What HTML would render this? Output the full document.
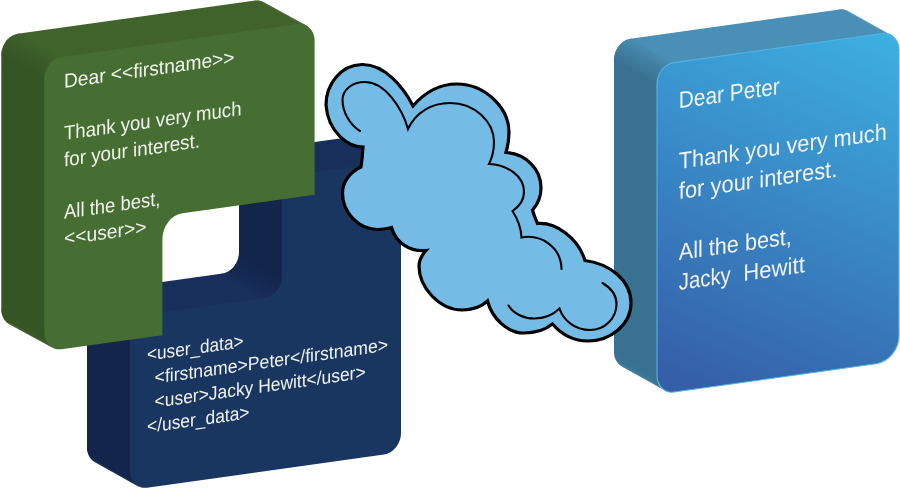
<!DOCTYPE html>
<html><head><meta charset="utf-8"><title>Mail merge</title>
<style>
html,body{margin:0;padding:0;background:#fff;overflow:hidden;}
svg{display:block;will-change:transform;}
text{font-family:"Liberation Sans",sans-serif;}
</style></head><body>
<svg width="900" height="488" viewBox="0 0 900 488">
<defs>
<path id="gB" d="M282.00,235.00 A17,19 0 0 1 299.00,216.00 L384.00,216.00 A17,19 0 0 1 401.00,235.00 L401.00,489.30 A17,19 0 0 1 384.00,508.30 L147.00,508.30 A17,19 0 0 1 130.00,489.30 L130.00,353.80 A17,19 0 0 1 147.00,334.80 L265.00,334.80 A17,19 0 0 0 282.00,315.80 Z"/>
<path id="gG" d="M44.30,84.70 A17,19 0 0 1 61.30,65.70 L297.60,65.70 A17,19 0 0 1 314.60,84.70 L314.60,238.80 L182.40,238.80 A20,23 0 0 0 162.40,261.80 L162.40,358.10 L61.30,357.76 A17,19 0 0 1 44.30,338.70 Z"/>
<path id="gP" d="M657.00,176.00 A17,19 0 0 1 674.00,157.00 L882.00,157.00 A17,19 0 0 1 899.00,176.00 L899.00,461.40 A23,25 0 0 1 876.00,486.40 L674.00,486.40 A17,19 0 0 1 657.00,467.40 Z"/>
<linearGradient id="pg" gradientUnits="userSpaceOnUse" x1="880" y1="150" x2="690" y2="480">
<stop offset="0" stop-color="#3db0e2"/><stop offset="1" stop-color="#355fa8"/>
</linearGradient>
</defs>
<rect width="900" height="488" fill="#fff"/>
<g transform="matrix(1,-0.14,0,1,0,0)">
<g><polygon points="283.68,236.90 283.86,233.37 239.14,202.15 238.96,205.68" fill="#13254b"/>
<polygon points="283.72,234.77 284.25,231.28 239.53,200.06 239.00,203.54" fill="#13264c"/>
<polygon points="283.97,232.65 284.85,229.25 240.13,198.03 239.25,201.43" fill="#14274d"/>
<polygon points="284.43,230.58 285.65,227.30 240.93,196.08 239.71,199.36" fill="#14274e"/>
<polygon points="285.09,228.58 286.64,225.46 241.92,194.24 240.37,197.36" fill="#14284f"/>
<polygon points="285.95,226.68 287.80,223.76 243.08,192.54 241.23,195.46" fill="#142950"/>
<polygon points="286.99,224.90 289.14,222.22 244.42,191.00 242.27,193.68" fill="#152951"/>
<polygon points="288.20,223.26 290.62,220.85 245.90,189.63 243.48,192.04" fill="#152a53"/>
<polygon points="289.57,221.78 292.22,219.68 247.50,188.46 244.85,190.56" fill="#152b54"/>
<polygon points="291.08,220.48 293.94,218.71 249.22,187.49 246.36,189.26" fill="#162b55"/>
<polygon points="292.71,219.38 295.74,217.97 251.02,186.75 247.99,188.16" fill="#162c56"/>
<polygon points="294.44,218.48 297.60,217.46 252.88,186.24 249.72,187.26" fill="#162d57"/>
<polygon points="296.25,217.81 299.50,217.19 254.78,185.97 251.53,186.59" fill="#172e58"/>
<polygon points="298.12,217.36 301.42,217.16 256.70,185.94 253.40,186.14" fill="#172f59"/>
<polygon points="300.02,217.20 386.42,217.20 341.70,185.98 255.30,185.98" fill="#172f5a"/>
<polygon points="385.02,217.16 388.32,217.36 343.60,186.14 340.30,185.94" fill="#172f5a"/>
<polygon points="386.94,217.19 390.19,217.81 345.47,186.59 342.22,185.97" fill="#172f5a"/>
<polygon points="388.84,217.46 392.00,218.48 347.28,187.26 344.12,186.24" fill="#17305b"/>
<polygon points="390.70,217.97 393.73,219.38 349.01,188.16 345.98,186.75" fill="#18305b"/>
<polygon points="392.50,218.71 395.36,220.48 350.64,189.26 347.78,187.49" fill="#18305b"/>
<polygon points="140.22,507.02 137.57,504.92 92.85,473.70 95.50,475.80" fill="#14274d"/>
<polygon points="138.62,505.85 136.20,503.44 91.48,472.22 93.90,474.63" fill="#14274d"/>
<polygon points="137.14,504.48 134.99,501.80 90.27,470.58 92.42,473.26" fill="#14274d"/>
<polygon points="135.80,502.94 133.95,500.02 89.23,468.80 91.08,471.72" fill="#14264c"/>
<polygon points="134.64,501.24 133.09,498.12 88.37,466.90 89.92,470.02" fill="#14264c"/>
<polygon points="133.65,499.40 132.43,496.12 87.71,464.90 88.93,468.18" fill="#13264c"/>
<polygon points="132.85,497.45 131.97,494.05 87.25,462.83 88.13,466.23" fill="#13264c"/>
<polygon points="132.25,495.42 131.72,491.94 87.00,460.72 87.53,464.20" fill="#13254b"/>
<polygon points="131.86,493.33 131.68,489.80 86.96,458.58 87.14,462.11" fill="#13254b"/>
<polygon points="131.72,491.20 131.72,354.30 87.00,323.08 87.00,459.98" fill="#13254b"/>
<polygon points="131.68,355.70 131.86,352.17 87.14,320.95 86.96,324.48" fill="#13254b"/>
<polygon points="131.72,353.57 132.25,350.08 87.53,318.86 87.00,322.34" fill="#13264c"/>
<polygon points="131.97,351.45 132.85,348.05 88.13,316.83 87.25,320.23" fill="#14274d"/>
<polygon points="132.43,349.38 133.65,346.10 88.93,314.88 87.71,318.16" fill="#14274e"/>
<polygon points="133.09,347.38 134.64,344.26 89.92,313.04 88.37,316.16" fill="#14284f"/>
<polygon points="133.95,345.48 135.80,342.56 91.08,311.34 89.23,314.26" fill="#142950"/>
<polygon points="134.99,343.70 137.14,341.02 92.42,309.80 90.27,312.48" fill="#152951"/>
<polygon points="136.20,342.06 138.62,339.65 93.90,308.43 91.48,310.84" fill="#152a53"/>
<polygon points="137.57,340.58 140.22,338.48 95.50,307.26 92.85,309.36" fill="#152b54"/>
<polygon points="139.08,339.28 141.94,337.51 97.22,306.29 94.36,308.06" fill="#162b55"/>
<polygon points="140.71,338.18 143.74,336.77 99.02,305.55 95.99,306.96" fill="#162c56"/>
<polygon points="142.44,337.28 145.60,336.26 100.88,305.04 97.72,306.06" fill="#162d57"/>
<polygon points="144.25,336.61 147.50,335.99 102.78,304.77 99.53,305.39" fill="#172e58"/>
<polygon points="146.12,336.16 149.42,335.96 104.70,304.74 101.40,304.94" fill="#172f59"/>
<polygon points="148.02,336.00 267.42,336.00 222.70,304.78 103.30,304.78" fill="#172f5a"/>
<polygon points="266.02,336.04 269.32,335.84 224.60,304.62 221.30,304.82" fill="#172f59"/>
<polygon points="267.94,336.01 271.19,335.39 226.47,304.17 223.22,304.79" fill="#172e58"/>
<polygon points="269.84,335.74 273.00,334.72 228.28,303.50 225.12,304.52" fill="#162d57"/>
<polygon points="271.70,335.23 274.73,333.83 230.01,302.60 226.98,304.01" fill="#162c56"/>
<polygon points="273.50,334.49 276.36,332.72 231.64,301.50 228.78,303.27" fill="#162b55"/>
<polygon points="275.22,333.52 277.87,331.42 233.15,300.20 230.50,302.30" fill="#152b54"/>
<polygon points="276.82,332.35 279.24,329.94 234.52,298.72 232.10,301.13" fill="#152a53"/>
<polygon points="278.30,330.98 280.45,328.30 235.73,297.08 233.58,299.76" fill="#152951"/>
<polygon points="279.64,329.44 281.49,326.52 236.77,295.30 234.92,298.22" fill="#142950"/>
<polygon points="280.80,327.74 282.35,324.62 237.63,293.40 236.08,296.52" fill="#14284f"/>
<polygon points="281.79,325.90 283.01,322.62 238.29,291.40 237.07,294.68" fill="#14274e"/>
<polygon points="282.59,323.95 283.47,320.55 238.75,289.33 237.87,292.73" fill="#14274d"/>
<polygon points="283.19,321.92 283.72,318.44 239.00,287.22 238.47,290.70" fill="#13264c"/>
<polygon points="283.58,319.83 283.76,316.30 239.04,285.08 238.86,288.61" fill="#13254b"/>
<polygon points="283.72,317.70 283.72,235.50 239.00,204.28 239.00,286.48" fill="#13254b"/></g>
<use href="#gB" fill="#193660"/>
<g><polygon points="45.98,86.58 46.16,83.05 1.44,52.45 1.26,55.98" fill="#365525"/>
<polygon points="46.02,84.44 46.55,80.96 1.83,50.36 1.30,53.84" fill="#375626"/>
<polygon points="46.27,82.33 47.15,78.92 2.43,48.33 1.55,51.73" fill="#385726"/>
<polygon points="46.73,80.26 47.95,76.98 3.23,46.38 2.01,49.66" fill="#385826"/>
<polygon points="47.39,78.26 48.94,75.14 4.22,44.54 2.67,47.66" fill="#395927"/>
<polygon points="48.25,76.36 50.10,73.44 5.38,42.84 3.53,45.76" fill="#3a5a27"/>
<polygon points="49.29,74.58 51.44,71.90 6.72,41.30 4.57,43.98" fill="#3a5b28"/>
<polygon points="50.50,72.94 52.92,70.53 8.20,39.93 5.78,42.34" fill="#3b5c28"/>
<polygon points="51.87,71.46 54.52,69.35 9.80,38.76 7.15,40.86" fill="#3c5d28"/>
<polygon points="53.38,70.16 56.24,68.39 11.52,37.79 8.66,39.56" fill="#3c5e29"/>
<polygon points="55.01,69.05 58.04,67.65 13.32,37.05 10.29,38.46" fill="#3d5f29"/>
<polygon points="56.74,68.16 59.90,67.14 15.18,36.54 12.02,37.56" fill="#3e602a"/>
<polygon points="58.55,67.48 61.80,66.87 17.08,36.27 13.83,36.89" fill="#3f612a"/>
<polygon points="60.42,67.04 63.72,66.83 19.00,36.24 15.70,36.44" fill="#40622b"/>
<polygon points="62.32,66.88 300.02,66.88 255.30,36.28 17.60,36.28" fill="#40632b"/>
<polygon points="298.62,66.83 301.92,67.04 257.20,36.44 253.90,36.24" fill="#40632b"/>
<polygon points="300.54,66.87 303.79,67.48 259.07,36.89 255.82,36.27" fill="#40642b"/>
<polygon points="302.44,67.14 305.60,68.16 260.88,37.56 257.72,36.54" fill="#41642c"/>
<polygon points="304.30,67.65 307.33,69.05 262.61,38.46 259.58,37.05" fill="#41652c"/>
<polygon points="306.10,68.39 308.96,70.16 264.24,39.56 261.38,37.79" fill="#41652c"/>
<polygon points="54.52,356.43 51.87,354.32 7.15,323.72 9.80,325.83" fill="#395927"/>
<polygon points="52.91,355.25 50.50,352.84 5.78,322.24 8.19,324.65" fill="#385826"/>
<polygon points="51.44,353.88 49.29,351.19 4.57,320.59 6.72,323.28" fill="#385826"/>
<polygon points="50.10,352.33 48.25,349.40 3.53,318.81 5.38,321.73" fill="#385826"/>
<polygon points="48.94,350.62 47.39,347.50 2.67,316.90 4.22,320.03" fill="#375726"/>
<polygon points="47.95,348.78 46.73,345.50 2.01,314.90 3.23,318.19" fill="#375726"/>
<polygon points="47.15,346.83 46.27,343.43 1.55,312.83 2.43,316.24" fill="#375625"/>
<polygon points="46.55,344.80 46.02,341.31 1.30,310.72 1.83,314.20" fill="#365625"/>
<polygon points="46.16,342.70 45.98,339.18 1.26,308.58 1.44,312.11" fill="#365525"/>
<polygon points="46.02,340.58 46.02,85.18 1.30,54.58 1.30,309.98" fill="#365525"/></g>
<use href="#gG" fill="#466e32"/>
<g><polygon points="658.68,177.90 658.86,174.37 614.14,143.15 613.96,146.68" fill="#3b7291"/>
<polygon points="658.72,175.77 659.25,172.28 614.53,141.06 614.00,144.54" fill="#3c7494"/>
<polygon points="658.97,173.65 659.85,170.25 615.13,139.03 614.25,142.43" fill="#3d7696"/>
<polygon points="659.43,171.58 660.65,168.30 615.93,137.08 614.71,140.36" fill="#3e7898"/>
<polygon points="660.09,169.58 661.64,166.46 616.92,135.24 615.37,138.36" fill="#3f7a9b"/>
<polygon points="660.95,167.68 662.80,164.76 618.08,133.54 616.23,136.46" fill="#407c9d"/>
<polygon points="661.99,165.90 664.14,163.22 619.42,132.00 617.27,134.68" fill="#417ea0"/>
<polygon points="663.20,164.26 665.62,161.85 620.90,130.63 618.48,133.04" fill="#4280a3"/>
<polygon points="664.57,162.78 667.22,160.68 622.50,129.46 619.85,131.56" fill="#4382a5"/>
<polygon points="666.08,161.48 668.94,159.71 624.22,128.49 621.36,130.26" fill="#4484a8"/>
<polygon points="667.71,160.38 670.74,158.97 626.02,127.75 622.99,129.16" fill="#4687ab"/>
<polygon points="669.44,159.48 672.60,158.46 627.88,127.24 624.72,128.26" fill="#4789ae"/>
<polygon points="671.25,158.81 674.50,158.19 629.78,126.97 626.53,127.59" fill="#488bb1"/>
<polygon points="673.12,158.36 676.42,158.16 631.70,126.94 628.40,127.14" fill="#498eb4"/>
<polygon points="675.02,158.20 884.42,158.20 839.70,126.98 630.30,126.98" fill="#4a8fb5"/>
<polygon points="883.02,158.16 886.32,158.36 841.60,127.14 838.30,126.94" fill="#4a8fb6"/>
<polygon points="884.94,158.19 888.19,158.81 843.47,127.59 840.22,126.97" fill="#4990b7"/>
<polygon points="886.84,158.46 890.00,159.48 845.28,128.26 842.12,127.24" fill="#4891b9"/>
<polygon points="888.70,158.97 891.73,160.38 847.01,129.16 843.98,127.75" fill="#4891ba"/>
<polygon points="890.50,159.71 893.36,161.48 848.64,130.26 845.78,128.49" fill="#4792bc"/>
<polygon points="667.22,485.12 664.57,483.02 619.85,451.80 622.50,453.90" fill="#3d7b9b"/>
<polygon points="665.62,483.95 663.20,481.54 618.48,450.32 620.90,452.73" fill="#3d7a9a"/>
<polygon points="664.14,482.58 661.99,479.90 617.27,448.68 619.42,451.36" fill="#3c7899"/>
<polygon points="662.80,481.04 660.95,478.12 616.23,446.90 618.08,449.82" fill="#3c7797"/>
<polygon points="661.64,479.34 660.09,476.22 615.37,445.00 616.92,448.12" fill="#3b7696"/>
<polygon points="660.65,477.50 659.43,474.22 614.71,443.00 615.93,446.28" fill="#3b7595"/>
<polygon points="659.85,475.55 658.97,472.15 614.25,440.93 615.13,444.33" fill="#3b7493"/>
<polygon points="659.25,473.52 658.72,470.04 614.00,438.82 614.53,442.30" fill="#3a7392"/>
<polygon points="658.86,471.43 658.68,467.90 613.96,436.68 614.14,440.21" fill="#3a7291"/>
<polygon points="658.72,469.30 658.72,176.50 614.00,145.28 614.00,438.08" fill="#3a7190"/></g>
<use href="#gP" fill="url(#pg)" stroke="#52b4e5" stroke-width="1.1"/>
</g>
<g transform="matrix(1,-0.141,0,1,0,0)">
<text x="147" y="381.5" font-size="18.7" textLength="96.5" lengthAdjust="spacingAndGlyphs" fill="#f1f3ee" xml:space="preserve">&lt;user_data&gt;</text>
<text x="154.6" y="405.5" font-size="18.7" textLength="233.5" lengthAdjust="spacingAndGlyphs" fill="#f1f3ee" xml:space="preserve">&lt;firstname&gt;Peter&lt;/firstname&gt;</text>
<text x="154.6" y="429.5" font-size="18.7" textLength="211" lengthAdjust="spacingAndGlyphs" fill="#f1f3ee" xml:space="preserve">&lt;user&gt;Jacky Hewitt&lt;/user&gt;</text>
<text x="147" y="453.5" font-size="18.7" textLength="102.5" lengthAdjust="spacingAndGlyphs" fill="#f1f3ee" xml:space="preserve">&lt;/user_data&gt;</text>
<text x="64" y="97.0" font-size="20" textLength="170.5" lengthAdjust="spacingAndGlyphs" fill="#f1f3ee" xml:space="preserve">Dear &lt;&lt;firstname&gt;&gt;</text>
<text x="64" y="149.0" font-size="20" textLength="177.5" lengthAdjust="spacingAndGlyphs" fill="#f1f3ee" xml:space="preserve">Thank you very much</text>
<text x="64" y="175.5" font-size="20" textLength="136" lengthAdjust="spacingAndGlyphs" fill="#f1f3ee" xml:space="preserve">for your interest.</text>
<text x="64" y="227.8" font-size="20" textLength="96.5" lengthAdjust="spacingAndGlyphs" fill="#f1f3ee" xml:space="preserve">All the best,</text>
<text x="64" y="254.0" font-size="20" textLength="82.5" lengthAdjust="spacingAndGlyphs" fill="#f1f3ee" xml:space="preserve">&lt;&lt;user&gt;&gt;</text>
<text x="678.8" y="204.0" font-size="23.4" textLength="101" lengthAdjust="spacingAndGlyphs" fill="#f1f3ee" xml:space="preserve">Dear Peter</text>
<text x="678.8" y="264.7" font-size="23.4" textLength="208" lengthAdjust="spacingAndGlyphs" fill="#f1f3ee" xml:space="preserve">Thank you very much</text>
<text x="678.8" y="294.7" font-size="23.4" textLength="158.5" lengthAdjust="spacingAndGlyphs" fill="#f1f3ee" xml:space="preserve">for your interest.</text>
<text x="678.8" y="355.7" font-size="23.4" textLength="113" lengthAdjust="spacingAndGlyphs" fill="#f1f3ee" xml:space="preserve">All the best,</text>
<text x="678.8" y="385.7" font-size="23.4" textLength="52" lengthAdjust="spacingAndGlyphs" fill="#f1f3ee" xml:space="preserve">Jacky</text>
<text x="743.3" y="385.7" font-size="23.4" textLength="61.5" lengthAdjust="spacingAndGlyphs" fill="#f1f3ee" xml:space="preserve">Hewitt</text>
</g>
<path d="M363,147 C348,147 328,132 326,105 C326,85 340,65 362,64.5 C385,64 404,88 413,106
C425,92 440,84 457,84 C485,84 509,108 509,132 C509,140 508,146 506,152.5
C525,154 541,168 541,188 C541,197 538,204 532.5,210 C534,216 536,220 537.5,223.5
C556,222 578,238 585,260.5 C610,264 631,280 631,303 C631,325 610,341 588,341 C574,341 562,335 552.5,324
C545,330 535,333 524,333 C507,333 492,318 487.5,301 C481,307 472,310 462,310 C440,310 419,288 419,266 C419,260 422,255 426,250.5
C410,252 396,243 391.5,227.5 C386,229 382,229.5 378,229.5 C358,229.5 342.5,212 342.5,193 C342.5,182 350,172 361,167 Q362.5,157 363,147 Z" fill="#74bbe6" stroke="#000" stroke-width="3.2" stroke-linejoin="miter"/>
<g fill="none" stroke="#000" stroke-width="2.1" stroke-linecap="round">
<path d="M360,131 C350,125 342.5,112 342.5,100 C342.5,90 352,82 365,82 C385,82 402,108 408,129 C416,112 432,103 450,103 C475,103 494,122 494,142 C494,150 492,158 489,164 C508,165 524,176 524,192 C524,200 520,206 512.5,211 C517,218 521,227 521.5,237.5 C540,234 561,246 561.5,269"/><path d="M508.5,305.5 C514,314 524,318.5 534,318.5 C545,318.5 554,314 559.5,308.5 C563,320 575,330 590,330 C605,330 616.5,318 616.5,304 C616.5,295 611,288 602.5,283"/>
</g>
</svg>
</body></html>
